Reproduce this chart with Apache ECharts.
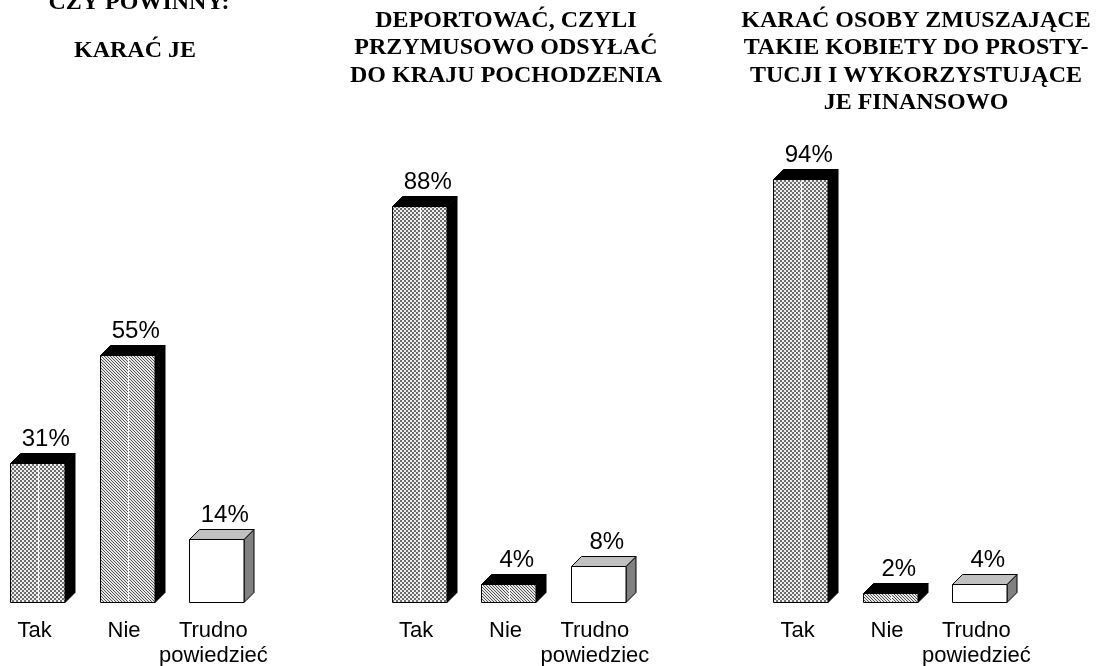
<!DOCTYPE html>
<html>
<head>
<meta charset="utf-8">
<title>Czy powinny</title>
<script src="https://cdn.jsdelivr.net/npm/echarts@6/dist/echarts.min.js"></script>
<style>
html, body { margin: 0; padding: 0; background: #fff; }
#chart { width: 1098px; height: 666px; }
</style>
</head>
<body>
<div id="chart"></div>
<script>
// kategorie odpowiedzi (w srodkowym wykresie bez ogonka, jak w oryginale)
const categories = ['Tak', 'Nie', 'Trudno\npowiedzieć'];
const categoriesMid = ['Tak', 'Nie', 'Trudno\npowiedziec'];
// odsetki odpowiedzi (%)
const karacJe = [31, 55, 14];
const deportowac = [88, 4, 8];
const karacOsoby = [94, 2, 4];

const headTitle = 'CZY POWINNY:';
const panelTitles = [
  ['KARAĆ JE'],
  ['DEPORTOWAĆ, CZYLI', 'PRZYMUSOWO ODSYŁAĆ', 'DO KRAJU POCHODZENIA'],
  ['KARAĆ OSOBY ZMUSZAJĄCE', 'TAKIE KOBIETY DO PROSTY-', 'TUCJI I WYKORZYSTUJĄCE', 'JE FINANSOWO']
];

const SANS = '"Liberation Sans", Arial, sans-serif';
const SERIF = '"Liberation Serif", "Times New Roman", serif';

// wypelnienia deseniem
function makePattern(size, draw) {
  const c = document.createElement('canvas');
  c.width = size;
  c.height = size;
  draw(c.getContext('2d'));
  return { image: c, repeat: 'repeat' };
}
const checkFill = makePattern(4, (ctx) => {
  ctx.fillStyle = '#ececec';
  ctx.fillRect(0, 0, 4, 4);
  ctx.fillStyle = '#6e6e6e';
  ctx.fillRect(0, 0, 2, 2);
  ctx.fillRect(2, 2, 2, 2);
});
const hatchFill = makePattern(3, (ctx) => {
  ctx.fillStyle = '#e6e6e6';
  ctx.fillRect(0, 0, 3, 3);
  ctx.fillStyle = '#555';
  for (let i = 0; i < 3; i++) ctx.fillRect(i, i, 1, 1);
});

// slupek 3D; shift = przesuniecie panelu w poziomie
function makeRenderer(shift) {
  return function (params, api) {
    const idx = api.value(0);
    const val = api.value(1);
    const top = api.coord([idx, val]);
    const base = api.coord([idx, 0]);
    const w = api.size([1, 0])[0] * 0.61;
    const d = 10;
    const x0 = Math.round(top[0] + shift + 3 - w / 2) + 0.5;
    const x1 = Math.round(x0 + w);
    const yt = Math.round(top[1]) + 0.5;
    const yb = Math.round(base[1]) + 0.5;
    const blank = idx === 2;
    const frontFill = blank ? '#fff' : (idx === 0 ? checkFill : hatchFill);
    const children = [
      {
        type: 'polygon',
        shape: { points: [[x1, yb], [x1 + d, yb - d], [x1 + d, yt - d], [x1, yt]] },
        style: { fill: blank ? '#808080' : '#000', stroke: '#000', lineWidth: 1 }
      },
      {
        type: 'polygon',
        shape: { points: [[x0, yt], [x0 + d, yt - d], [x1 + d, yt - d], [x1, yt]] },
        style: { fill: blank ? '#c0c0c0' : '#000', stroke: '#000', lineWidth: 1 }
      },
      {
        type: 'rect',
        shape: { x: x0, y: yt, width: x1 - x0, height: yb - yt },
        style: { fill: frontFill, stroke: '#000', lineWidth: 1 }
      }
    ];
    if (!blank) {
      const xm = Math.round((x0 + x1) / 2) + 0.5;
      children.push({
        type: 'line',
        shape: { x1: xm, y1: yt + 1, x2: xm, y2: yb - 1 },
        style: { stroke: '#fff', lineWidth: 1 }
      });
    }
    children.push({
      type: 'text',
      x: (x0 + x1 + d) / 2 + 3,
      y: yt - d - 2,
      style: {
        text: val + '%',
        align: 'center',
        verticalAlign: 'bottom',
        font: '24px ' + SANS,
        fill: '#000'
      }
    });
    return { type: 'group', children: children };
  };
}

const panels = [
  { left: 0, shift: -10, cats: categories, values: karacJe },
  { left: 371.5, shift: 0, cats: categoriesMid, values: deportowac },
  { left: 753, shift: 0, cats: categories, values: karacOsoby }
];

const chart = echarts.init(document.getElementById('chart'));

const titleFont = 'bold 24px ' + SERIF;
const titleGraphics = [
  {
    type: 'text', x: 139, y: -9,
    style: { text: headTitle, align: 'center', verticalAlign: 'top', font: titleFont, fill: '#000' }
  },
  {
    type: 'text', x: 135, y: 37,
    style: { text: panelTitles[0].join('\n'), align: 'center', verticalAlign: 'top', lineHeight: 27.5, font: titleFont, fill: '#000' }
  },
  {
    type: 'text', x: 506, y: 7,
    style: { text: panelTitles[1].join('\n'), align: 'center', verticalAlign: 'top', lineHeight: 27.5, font: titleFont, fill: '#000' }
  },
  {
    type: 'text', x: 916, y: 7,
    style: { text: panelTitles[2].join('\n'), align: 'center', verticalAlign: 'top', lineHeight: 27.5, font: titleFont, fill: '#000' }
  }
];

chart.setOption({
  backgroundColor: '#fff',
  animation: false,
  graphic: titleGraphics,
  grid: panels.map((p) => ({
    left: p.left,
    width: 268,
    top: 152,
    height: 450,
    outerBoundsMode: 'none',
    containLabel: false
  })),
  xAxis: panels.map((p, i) => ({
    type: 'category',
    gridIndex: i,
    data: p.cats,
    axisLine: { show: false },
    axisTick: { show: false },
    axisLabel: {
      color: '#000',
      fontFamily: SANS,
      fontSize: 22,
      lineHeight: 25,
      margin: 16,
      interval: 0,
      padding: p.shift < 0 ? [0, -2 * p.shift, 0, 0] : 0
    }
  })),
  yAxis: panels.map((p, i) => ({
    type: 'value',
    gridIndex: i,
    min: 0,
    max: 100,
    show: false
  })),
  series: panels.map((p, i) => ({
    type: 'custom',
    xAxisIndex: i,
    yAxisIndex: i,
    renderItem: makeRenderer(p.shift),
    clip: false,
    data: p.values.map((v, k) => [k, v])
  }))
});
</script>
</body>
</html>
